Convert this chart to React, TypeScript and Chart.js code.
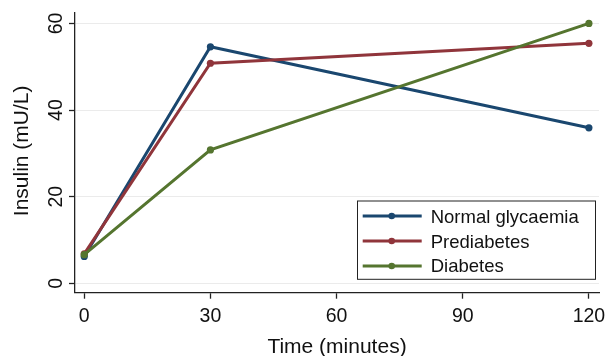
import React, { useEffect, useRef } from "react";
import { Chart, registerables } from "chart.js";

Chart.register(...registerables);

const timePoints = [0, 30, 120];
const normalValues = [6.2, 54.6, 35.9];
const prediabetesValues = [6.8, 50.8, 55.4];
const diabetesValues = [6.6, 30.8, 60.0];
const seriesLabels = ["Normal glycaemia", "Prediabetes", "Diabetes"];
const seriesColors = ["#1a476f", "#90353b", "#55752f"];
const xTicks = [0, 30, 60, 90, 120];
const yTicks = [0, 20, 40, 60];
const xTitle = "Time (minutes)";
const yTitle = "Insulin (mU/L)";

const FONT = "'Liberation Sans', Arial, Helvetica, sans-serif";
const INK = "#111111";
const AXIS = "#222222";

const overlayPlugin = {
  id: "overlay",
  afterDraw(chart: any) {
    const ctx = chart.ctx as CanvasRenderingContext2D;
    const yScale = chart.scales.y;
    const area = chart.chartArea;
    ctx.save();
    // y tick labels, rotated
    ctx.fillStyle = INK;
    ctx.font = `19.5px ${FONT}`;
    ctx.textAlign = "center";
    ctx.textBaseline = "alphabetic";
    for (const v of yTicks) {
      const py = yScale.getPixelForValue(v);
      ctx.save();
      ctx.translate(area.left - 13.3, py);
      ctx.rotate(-Math.PI / 2);
      ctx.fillText(String(v), 0, 0);
      ctx.restore();
    }
    // y title
    ctx.save();
    ctx.font = `21px ${FONT}`;
    ctx.translate(28.3, (area.top + area.bottom) / 2 - 2);
    ctx.rotate(-Math.PI / 2);
    ctx.fillText(yTitle, 0, 0);
    ctx.restore();
    // x title
    ctx.font = `21px ${FONT}`;
    ctx.fillText(xTitle, (area.left + area.right) / 2, 353.3);

    // legend
    const bx = 357.5;
    const by = 201;
    const bw = 238;
    const bh = 78.3;
    ctx.fillStyle = "#ffffff";
    ctx.fillRect(bx, by, bw, bh);
    ctx.strokeStyle = AXIS;
    ctx.lineWidth = 1;
    ctx.strokeRect(bx, by, bw, bh);
    ctx.font = `18.5px ${FONT}`;
    ctx.textAlign = "left";
    ctx.textBaseline = "alphabetic";
    chart.data.datasets.forEach((ds: any, i: number) => {
      const ly = 216 + i * 25;
      ctx.strokeStyle = ds.borderColor;
      ctx.lineWidth = 3;
      ctx.beginPath();
      ctx.moveTo(362.7, ly);
      ctx.lineTo(421.7, ly);
      ctx.stroke();
      ctx.fillStyle = ds.borderColor;
      ctx.beginPath();
      ctx.arc(391.7, ly, 3.3, 0, Math.PI * 2);
      ctx.fill();
      ctx.fillStyle = INK;
      ctx.fillText(ds.label, 430.7, ly + 7.2 - i * 0.6);
    });
    ctx.restore();
  },
};

export default function App() {
  const canvasRef = useRef<HTMLCanvasElement | null>(null);

  useEffect(() => {
    if (!canvasRef.current) return;
    const all = [normalValues, prediabetesValues, diabetesValues];
    const chart = new Chart(canvasRef.current, {
      type: "line",
      data: {
        datasets: all.map((vals, i) => ({
          label: seriesLabels[i],
          data: timePoints.map((t, j) => ({ x: t, y: vals[j] })),
          borderColor: seriesColors[i],
          backgroundColor: seriesColors[i],
          borderWidth: 3,
          pointRadius: 3.6,
          pointBorderWidth: 0,
          pointBackgroundColor: seriesColors[i],
          tension: 0,
          fill: false,
          order: 3 - i,
        })),
      },
      options: {
        animation: false,
        responsive: false,
        devicePixelRatio: 1,
        layout: { padding: { top: 13, right: 9, left: 0, bottom: 0 } },
        plugins: {
          legend: { display: false },
          tooltip: { enabled: false },
          title: { display: false },
        },
        scales: {
          x: {
            type: "linear",
            min: -2.2,
            max: 122.4,
            afterBuildTicks: (scale: any) => {
              scale.ticks = xTicks.map((v) => ({ value: v }));
            },
            afterFit: (scale: any) => {
              scale.height = 63.3;
              scale.paddingLeft = 0;
              scale.paddingRight = 0;
            },
            border: { display: true, color: AXIS, width: 1.3 },
            grid: {
              drawOnChartArea: false,
              drawTicks: true,
              tickLength: 6,
              tickColor: AXIS,
              tickWidth: 1.3,
            },
            ticks: {
              color: INK,
              font: { family: FONT, size: 19.5 },
              padding: 6.5,
              maxRotation: 0,
              minRotation: 0,
              autoSkip: false,
            },
            title: { display: false },
          },
          y: {
            type: "linear",
            min: -2.17,
            max: 62.4,
            afterBuildTicks: (scale: any) => {
              scale.ticks = yTicks.map((v) => ({ value: v }));
            },
            afterFit: (scale: any) => {
              scale.width = 75;
              scale.paddingTop = 0;
              scale.paddingBottom = 0;
            },
            border: { display: true, color: AXIS, width: 1.3 },
            grid: {
              drawOnChartArea: true,
              color: "#ebebeb",
              lineWidth: 1,
              drawTicks: true,
              tickLength: 6,
              tickColor: AXIS,
              tickWidth: 1.3,
            },
            ticks: { display: false },
            title: { display: false },
          },
        },
      },
      plugins: [overlayPlugin],
    });
    return () => chart.destroy();
  }, []);

  return (
    <div style={{ position: "absolute", left: 0, top: 0, width: 608, height: 356, background: "#fff" }}>
      <canvas ref={canvasRef} width={608} height={356} style={{ display: "block" }} />
    </div>
  );
}
